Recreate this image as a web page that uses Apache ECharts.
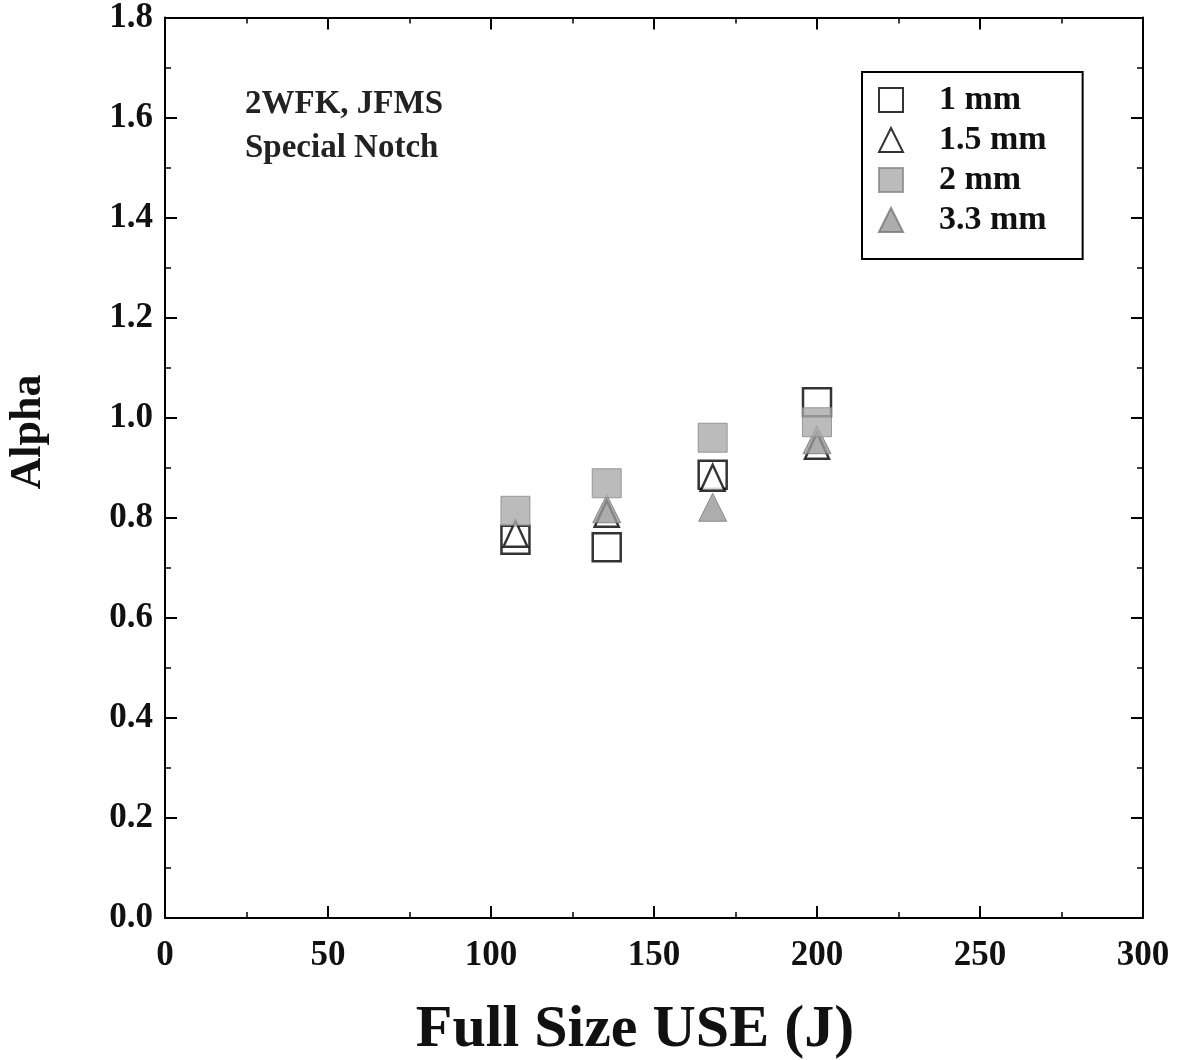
<!DOCTYPE html>
<html><head><meta charset="utf-8">
<script src="https://cdn.jsdelivr.net/npm/echarts@6/dist/echarts.min.js"></script>
<style>html,body{margin:0;padding:0;background:#fff}#c{width:1185px;height:1060px}</style>
</head><body><div id="c"></div>
<script>
const seriesNames = ['1 mm', '1.5 mm', '2 mm', '3.3 mm'];
const data1mm  = [[107.5, 0.756], [135.5, 0.741], [168, 0.886], [200, 1.031]];
const data15mm = [[107.5, 0.768], [135.5, 0.808], [168, 0.880], [200, 0.944]];
const data2mm  = [[107.5, 0.814], [135.5, 0.869], [168, 0.960], [200, 0.991]];
const data33mm = [[135.5, 0.818], [168, 0.821], [200, 0.956]];
const annotationLines = ['2WFK, JFMS', 'Special Notch'];
const xTitle = 'Full Size USE (J)';
const yTitle = 'Alpha';

const serif = '"Liberation Serif", "DejaVu Serif", serif';
const chart = echarts.init(document.getElementById('c'));
function axisCommon() {
  return {
    axisLine: {show: true, onZero: false, lineStyle: {color: '#000', width: 2}},
    axisTick: {show: true, inside: true, length: 12, lineStyle: {color: '#000', width: 2}},
    minorTick: {show: true, splitNumber: 2, length: 6, lineStyle: {color: '#000', width: 1.5}},
    splitLine: {show: false}
  };
}
const labelStyle = {fontFamily: serif, fontWeight: 'bold', fontSize: 35, color: '#111'};
chart.setOption({
  animation: false,
  backgroundColor: '#fff',
  grid: {left: 165, right: 42, top: 17, bottom: 142},
  xAxis: [
    Object.assign({type: 'value', min: 0, max: 300, interval: 50, position: 'bottom',
      axisLabel: Object.assign({margin: 20}, labelStyle)}, axisCommon()),
    Object.assign({type: 'value', min: 0, max: 300, interval: 50, position: 'top',
      axisLabel: {show: false}}, axisCommon())
  ],
  yAxis: [
    Object.assign({type: 'value', min: 0, max: 1.8, interval: 0.2, position: 'left',
      axisLabel: Object.assign({margin: 12, formatter: v => v.toFixed(1)}, labelStyle)}, axisCommon()),
    Object.assign({type: 'value', min: 0, max: 1.8, interval: 0.2, position: 'right',
      axisLabel: {show: false}}, axisCommon())
  ],
  legend: {
    orient: 'vertical', left: 862, top: 72,
    padding: [11, 36, 22, 16], itemGap: 6, itemWidth: 24, itemHeight: 24,
    borderColor: '#000', borderWidth: 2, backgroundColor: '#fff',
    textStyle: {fontFamily: serif, fontWeight: 'bold', fontSize: 34, color: '#111', padding: [0, 0, 0, 31]},
    data: seriesNames
  },
  graphic: [
    {type: 'text', left: 245, top: 82,
     style: {text: annotationLines.join('\n'), font: 'bold 33px ' + serif, fill: '#222', lineHeight: 44}},
    {type: 'text', x: 635, y: 1030,
     style: {text: xTitle, font: 'bold 60px ' + serif, fill: '#111', textAlign: 'center', textVerticalAlign: 'middle'}},
    {type: 'text', x: 29, y: 432, rotation: Math.PI / 2,
     style: {text: yTitle, font: 'bold 44px ' + serif, fill: '#111', textAlign: 'center', textVerticalAlign: 'middle'}}
  ],
  series: [
    {name: seriesNames[0], type: 'scatter', data: data1mm, symbol: 'rect', symbolSize: 28,
     itemStyle: {color: '#fff', borderColor: '#000', borderWidth: 2.5}, z: 2},
    {name: seriesNames[1], type: 'scatter', data: data15mm, symbol: 'triangle', symbolSize: [24, 26],
     itemStyle: {color: '#fff', borderColor: '#000', borderWidth: 2.5}, z: 3},
    {name: seriesNames[3], type: 'scatter', data: data33mm, symbol: 'triangle', symbolSize: [28, 28],
     itemStyle: {color: '#999', borderColor: '#777', borderWidth: 1}, z: 4},
    {name: seriesNames[2], type: 'scatter', data: data2mm, symbol: 'rect', symbolSize: 29,
     itemStyle: {color: '#aaa', borderColor: '#888', borderWidth: 1}, z: 5}
  ]
});
</script></body></html>
